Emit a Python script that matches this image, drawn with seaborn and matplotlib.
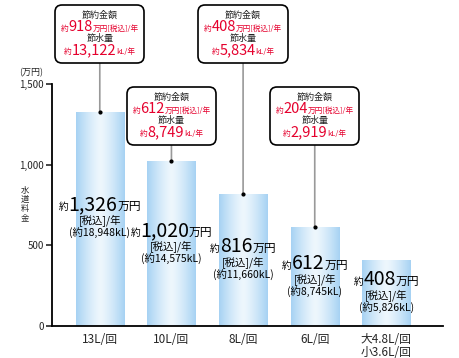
import numpy as np
import matplotlib
matplotlib.use("Agg")
import matplotlib.pyplot as plt
import seaborn as sns
from matplotlib.colors import to_rgb
from matplotlib.offsetbox import TextArea, HPacker, VPacker, AnnotationBbox

# data
flush_labels = ["13L/回", "10L/回", "8L/回", "6L/回", "大4.8L/回\n小3.6L/回"]
costs = [1326, 1020, 816, 612, 408]          # 万円/年
water = ["18,948", "14,575", "11,660", "8,745", "5,826"]  # kL
saving_cost = ["918", "612", "408", "204"]    # 万円/年 vs. last
saving_water = ["13,122", "8,749", "5,834", "2,919"]  # kL/年

# layout
label_y = [682, 521, 421, 316, 217]
box_y = [1810, 1302, 1810, 1302]
RED = "#e5002d"
EDGE = "#a6d2f3"
MID = "#eef7fd"

sns.set_style("white")
plt.rcParams["font.family"] = ["Noto Sans CJK JP", "DejaVu Sans"]

fig, ax = plt.subplots(figsize=(4.6, 3.58), dpi=100)
fig.subplots_adjust(left=52/460, right=443/460, bottom=32/358, top=274/358)

sns.barplot(x=flush_labels, y=costs, ax=ax, width=0.67, color=EDGE)

# gradient fill for each bar
t = np.linspace(0, 1, 256)
w = 1 - np.abs(2 * t - 1) ** 1.3
grad = np.array(to_rgb(EDGE))[None, :] * (1 - w[:, None]) + np.array(to_rgb(MID))[None, :] * w[:, None]
grad = grad[None, :, :]
for p in ax.patches:
    x0, y0 = p.get_x(), p.get_y()
    ax.imshow(grad, extent=[x0, x0 + p.get_width(), y0, y0 + p.get_height()],
              aspect="auto", zorder=1)
    p.set_facecolor("none")
    p.set_edgecolor("none")

ax.set_xlim(-0.667, 4.79)
ax.set_ylim(0, 1500)
ax.set_yticks([0, 500, 1000, 1500])
ax.set_yticklabels(["0", "500", "1,000", "1,500"], fontsize=7)
ax.tick_params(axis="y", direction="out", length=4, width=1.2, pad=2, left=True)
ax.tick_params(axis="x", length=0, pad=5, labelsize=8.5)
for lbl in ax.get_xticklabels():
    lbl.set_linespacing(1.0)
for s in ["top", "right"]:
    ax.spines[s].set_visible(False)
for s in ["left", "bottom"]:
    ax.spines[s].set_color("black")
    ax.spines[s].set_linewidth(1.3)
ax.set_xlabel("")
ax.set_ylabel("")

fig.text(31/460, 1 - 73/358, "(万円)", fontsize=6.5, ha="center", va="center")
fig.text(25/460, 1 - 204/358, "水\n道\n料\n金", fontsize=6, ha="center", va="center",
         linespacing=1.0)


def mixed(parts):
    return HPacker(children=[TextArea(s, textprops=dict(fontsize=fs, color=c)) for s, fs, c in parts],
                   align="baseline", pad=0, sep=0)


# labels inside bars
for i, (c, wv) in enumerate(zip(costs, water)):
    block = VPacker(children=[
        mixed([("約", 7, "black"), (f"{c:,}", 14, "black"), ("万円", 8.5, "black")]),
        mixed([("[税込]/年", 7.5, "black")]),
        mixed([(f"(約{wv}kL)", 7.5, "black")]),
    ], align="center", pad=0, sep=0)
    ab = AnnotationBbox(block, (i, label_y[i]), xycoords="data", frameon=False,
                        box_alignment=(0.5, 0.5), pad=0, zorder=3)
    ax.add_artist(ab)

# callout boxes
for i, (sc, sw) in enumerate(zip(saving_cost, saving_water)):
    block = VPacker(children=[
        mixed([("節約金額", 6.5, "#222222")]),
        mixed([("約", 5.5, RED), (sc, 10.5, RED), ("万円[税込]/年", 5.5, RED)]),
        mixed([("節水量", 6.5, "#222222")]),
        mixed([("約", 5.5, RED), (sw, 10.5, RED), ("kL/年", 5.5, RED)]),
    ], align="center", pad=0, sep=0)
    ab = AnnotationBbox(block, (i, costs[i]), xybox=(i, box_y[i]),
                        xycoords="data", boxcoords="data", box_alignment=(0.5, 0.5),
                        pad=0.4, annotation_clip=False,
                        bboxprops=dict(boxstyle="round,pad=0.4,rounding_size=0.5",
                                       ec="black", lw=1.2, fc="white"),
                        arrowprops=dict(arrowstyle="-", color="#999999", lw=1.2,
                                        shrinkA=0, shrinkB=0),
                        zorder=4)
    ax.add_artist(ab)
    ax.scatter([i], [costs[i]], s=4, color="black", zorder=5, clip_on=False)

fig.savefig("out.png", dpi=100)
